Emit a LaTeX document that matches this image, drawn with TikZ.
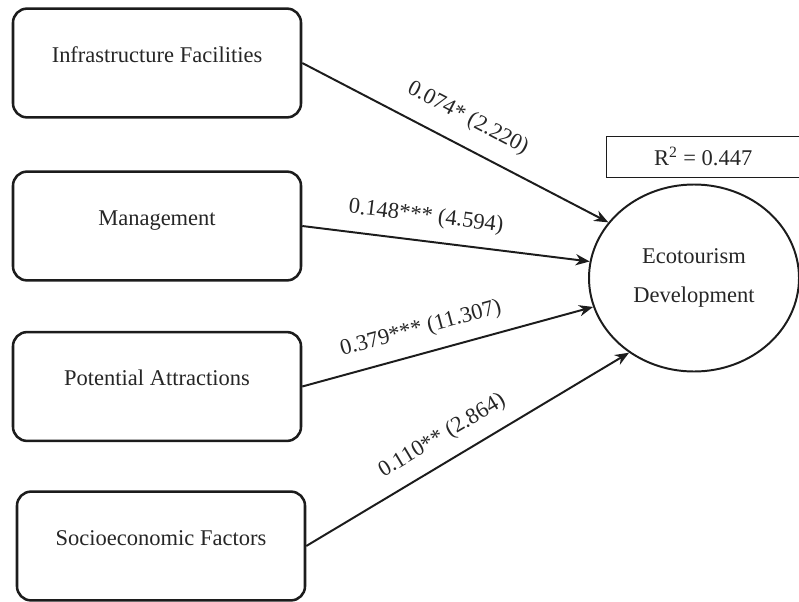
\documentclass[tikz,border=0pt]{standalone}
\usepackage{fontspec}
\setmainfont{Liberation Serif}
\usepackage{xcolor}
\usepackage{tikz}
\usetikzlibrary{positioning,arrows.meta,shapes.geometric}
\definecolor{ecoink}{HTML}{262626}
\definecolor{ecoline}{HTML}{1C1C1C}

\begin{document}
\begin{tikzpicture}[
  factor/.style={draw=ecoline,line width=1.8pt,rounded corners=10pt,fill=white,text=ecoink,
    minimum width=7.2cm,minimum height=2.72cm,text height=11pt,text depth=12pt,
    font=\fontsize{16}{19}\selectfont},
  outcome/.style={ellipse,draw=ecoline,line width=1.4pt,text=ecoink,minimum width=5.25cm,
    minimum height=4.675cm,align=center,font=\fontsize{16}{28}\selectfont},
  rsq/.style={draw=ecoline,line width=0.7pt,text=ecoink,minimum width=4.85cm,
    minimum height=1.025cm,font=\fontsize{16}{19}\selectfont},
  path/.style={draw=ecoline,line width=1.4pt,-{Stealth[length=10pt,width=8pt]}},
  coef/.style={sloped,above=6pt,text=ecoink,font=\fontsize{16}{19}\selectfont}
]
\useasboundingbox (0,0) rectangle (19.975,15.025);
\node[factor] (infra) at (3.925,13.45) {Infrastructure Facilities};
\node[factor] (mgmt) at (3.925,9.375) {Management};
\node[factor] (attr) at (3.925,5.3625) {Potential Attractions};
\node[factor] (socio) at (4.025,1.375) {Socioeconomic Factors};
\node[outcome] (eco) at (17.35,8.075) {Ecotourism\\Development};
\node[rsq] (r2) at (17.58,11.1125) {R\textsuperscript{2} = 0.447};

\draw[path] (infra.east) -- node[coef,pos=0.5,above=8pt] {0.074* (2.220)} (eco.147);
\draw[path] (mgmt.east) -- node[coef,pos=0.42] {0.148*** (4.594)} (eco.171);
\draw[path] (attr.east) -- node[coef,pos=0.43] {0.379*** (11.307)} (eco.196);
\draw[path] (socio.east) -- node[coef,pos=0.46] {0.110** (2.864)} (eco.229);
\end{tikzpicture}
\end{document}
